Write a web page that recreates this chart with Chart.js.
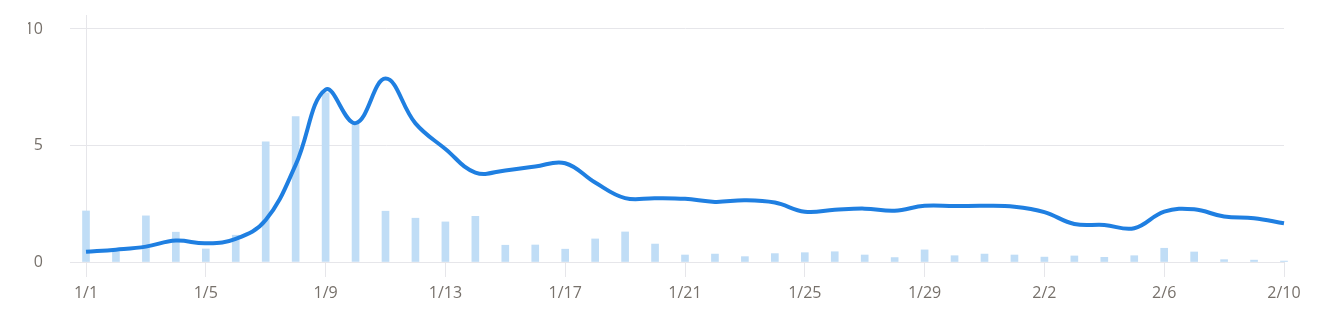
<!DOCTYPE html>
<html lang="en">
<head>
    <meta charset="UTF-8">
    <title>Daily chart</title>
    <script src="https://cdn.jsdelivr.net/npm/chart.js"></script>
    <style>
        html, body { margin: 0; padding: 0; background: #fff; }
        .chart-container { width: 1319px; height: 325px; }
    </style>
</head>
<body>
    <div class="chart-container">
        <canvas id="dailyChart"></canvas>
    </div>

    <script>
        // dates 1/1 .. 2/10
        const days = [
            '1/1','1/2','1/3','1/4','1/5','1/6','1/7','1/8','1/9','1/10',
            '1/11','1/12','1/13','1/14','1/15','1/16','1/17','1/18','1/19','1/20',
            '1/21','1/22','1/23','1/24','1/25','1/26','1/27','1/28','1/29','1/30',
            '1/31','2/1','2/2','2/3','2/4','2/5','2/6','2/7','2/8','2/9','2/10'
        ];

        // daily values (bars)
        const dailyValues = [
            2.19, 0.45, 1.98, 1.28, 0.56, 1.15, 5.16, 6.24, 7.26, 5.9,
            2.18, 1.88, 1.72, 1.96, 0.72, 0.73, 0.55, 0.99, 1.29, 0.77,
            0.3, 0.34, 0.23, 0.36, 0.4, 0.44, 0.3, 0.19, 0.52, 0.27,
            0.34, 0.3, 0.21, 0.26, 0.2, 0.27, 0.59, 0.43, 0.1, 0.08, 0.04
        ];

        // smoothed trend (line)
        const trendValues = [
            0.44, 0.53, 0.66, 0.92, 0.8, 0.99, 1.8, 4.17, 7.4, 5.96,
            7.87, 5.95, 4.85, 3.84, 3.93, 4.1, 4.24, 3.41, 2.74, 2.74,
            2.71, 2.58, 2.65, 2.55, 2.16, 2.24, 2.29, 2.2, 2.41, 2.4,
            2.41, 2.37, 2.14, 1.63, 1.59, 1.45, 2.16, 2.26, 1.95, 1.88, 1.66
        ];

        const yTicks = [0, 5, 10];

        const gridColor = '#e6e6ea';
        const textColor = '#77716b';
        const font = { family: '"Open Sans", sans-serif', size: 16 };

        const ctx = document.getElementById('dailyChart').getContext('2d');
        new Chart(ctx, {
            type: 'bar',
            data: {
                labels: days,
                datasets: [
                    {
                        type: 'line',
                        data: trendValues,
                        borderColor: '#1f7fe1',
                        borderWidth: 4,
                        pointRadius: 0,
                        tension: 0.4,
                        fill: false,
                        order: 0
                    },
                    {
                        type: 'bar',
                        data: dailyValues,
                        backgroundColor: '#c0ddf6',
                        barThickness: 7,
                        clip: false,
                        order: 1
                    }
                ]
            },
            options: {
                responsive: true,
                maintainAspectRatio: false,
                animation: false,
                layout: { padding: { left: 28, top: 15, right: 35, bottom: 15 } },
                plugins: {
                    legend: { display: false },
                    tooltip: { enabled: false }
                },
                scales: {
                    x: {
                        offset: false,
                        border: { color: gridColor },
                        grid: { offset: false, drawOnChartArea: false, color: gridColor, tickLength: 15 },
                        afterBuildTicks: axis => {
                            axis.ticks = axis.ticks.filter((t, i) => i % 4 === 0);
                        },
                        afterFit: axis => {
                            axis.height = 48;
                            axis.paddingLeft = 0;
                            axis.paddingRight = 0;
                        },
                        ticks: {
                            autoSkip: false,
                            maxRotation: 0,
                            color: textColor,
                            font: font,
                            padding: 7
                        }
                    },
                    y: {
                        min: 0,
                        max: 10.6,
                        border: { color: gridColor },
                        grid: { color: gridColor, tickLength: 16 },
                        afterBuildTicks: axis => {
                            axis.ticks = yTicks.map(v => ({ value: v }));
                        },
                        afterFit: axis => {
                            axis.width = 58;
                            axis.paddingTop = 0;
                            axis.paddingBottom = 0;
                        },
                        ticks: {
                            color: textColor,
                            font: font,
                            padding: 27
                        }
                    }
                }
            }
        });
    </script>
</body>
</html>
